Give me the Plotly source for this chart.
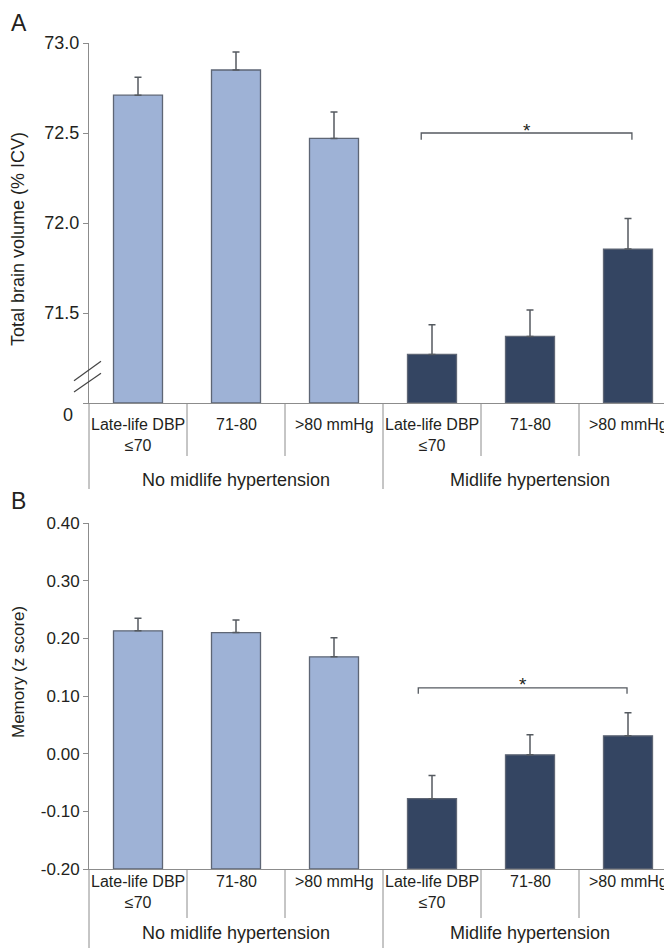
import plotly.graph_objects as go

# ---------------- data ----------------
subgroups = ["Late-life DBP<br>≤70", "71-80", ">80 mmHg"]
groups = ["No midlife hypertension", "Midlife hypertension"]

brain_no = [72.71, 72.85, 72.47]
brain_no_se = [0.10, 0.10, 0.147]
brain_mid = [71.27, 71.37, 71.855]
brain_mid_se = [0.165, 0.147, 0.17]

mem_no = [0.213, 0.210, 0.168]
mem_no_se = [0.022, 0.022, 0.033]
mem_mid = [-0.078, -0.002, 0.031]
mem_mid_se = [0.040, 0.035, 0.040]

brain_ticks = [71.0, 71.5, 72.0, 72.5, 73.0]
brain_ticktext = ["", "71.5", "72.0", "72.5", "73.0"]
mem_ticks = [-0.2, -0.1, 0.0, 0.1, 0.2, 0.3, 0.4]
mem_ticktext = ["-0.20", "-0.10", "0.00", "0.10", "0.20", "0.30", "0.40"]

brain_range = [71.0, 73.0]
mem_range = [-0.2, 0.4]

# significance brackets (x in category units, y in data units)
brain_bracket = dict(x0=2.89, x1=5.04, y=72.5, drop=0.037)
mem_bracket = dict(x0=2.86, x1=4.99, y=0.114, drop=0.010)

# ---------------- layout helpers ----------------
W, H = 672, 948
ML, MR, MT, MB = 81, 3, 35, 87
PW = W - ML - MR
PH = H - MT - MB


def py(p):
    return (H - MB - p) / PH


def pxf(p):
    return (p - ML) / PW


FONT = "Liberation Sans, Arial, Helvetica, sans-serif"
TXT = "#231f20"
GRID = "#8c8c8c"
LIGHT = "#9eb2d6"
DARK = "#344562"
OUTLINE = "#5e6675"
ERR = "#555a60"

n_cat = len(subgroups) * len(groups)
x_no = list(range(len(subgroups)))
x_mid = [len(subgroups) + i for i in range(len(subgroups))]

fig = go.Figure()


def add_bars(xs, vals, ses, color, base, xa, ya):
    fig.add_trace(go.Bar(
        x=xs, y=[v - base for v in vals], base=base, width=0.5,
        marker=dict(color=color, line=dict(color=OUTLINE, width=1.3)),
        error_y=dict(type="data", array=ses, arrayminus=[0] * len(ses),
                     symmetric=False, color=ERR, thickness=1.5, width=3.5),
        xaxis=xa, yaxis=ya, showlegend=False, hoverinfo="skip"))


add_bars(x_no, brain_no, brain_no_se, LIGHT, brain_range[0], "x", "y")
add_bars(x_mid, brain_mid, brain_mid_se, DARK, brain_range[0], "x", "y")
add_bars(x_no, mem_no, mem_no_se, LIGHT, mem_range[0], "x2", "y2")
add_bars(x_mid, mem_mid, mem_mid_se, DARK, mem_range[0], "x2", "y2")

# brackets
for b, xa, ya in [(brain_bracket, "x", "y"), (mem_bracket, "x2", "y2")]:
    fig.add_trace(go.Scatter(
        x=[b["x0"], b["x0"], b["x1"], b["x1"]],
        y=[b["y"] - b["drop"], b["y"], b["y"], b["y"] - b["drop"]],
        mode="lines", line=dict(color=ERR, width=1.3),
        xaxis=xa, yaxis=ya, showlegend=False, hoverinfo="skip"))

axis_common = dict(showgrid=False, zeroline=False, showline=True,
                   linecolor=GRID, linewidth=1)

fig.update_layout(
    width=W, height=H,
    margin=dict(l=ML, r=MR, t=MT, b=MB),
    paper_bgcolor="white", plot_bgcolor="white",
    font=dict(family=FONT, color=TXT),
    bargap=0.5,
    xaxis=dict(domain=[0, 1], range=[-0.5, n_cat - 0.5], anchor="y",
               showticklabels=False, ticks="", fixedrange=True, **axis_common),
    xaxis2=dict(domain=[0, 1], range=[-0.5, n_cat - 0.5], anchor="y2",
                showticklabels=False, ticks="", fixedrange=True, **axis_common),
    yaxis=dict(domain=[py(395), 1], range=brain_range, anchor="x",
               tickvals=brain_ticks, ticktext=brain_ticktext,
               ticks="outside", ticklen=5, tickcolor=GRID,
               tickfont=dict(size=18, color=TXT), **axis_common),
    yaxis2=dict(domain=[0, py(515)], range=mem_range, anchor="x2",
                tickvals=mem_ticks, ticktext=mem_ticktext,
                ticks="outside", ticklen=5, tickcolor=GRID,
                tickfont=dict(size=17, color=TXT), **axis_common),
)

shapes = []
annotations = []


def vline(k, p0, p1):
    shapes.append(dict(type="line", xref="paper", yref="paper",
                       x0=k / n_cat, x1=k / n_cat, y0=py(p0), y1=py(p1),
                       line=dict(color=GRID, width=1)))


# category table lines: (baseline px, short-line end, full-line end, label top, group centre)
table_rows = [(395, 448, 481, 406, 472), (861, 910, 952, 863, 925)]
for base_p, short_p, full_p, lab_p, grp_p in table_rows:
    for k in range(n_cat + 1):
        if k % len(subgroups) == 0:
            vline(k, base_p, full_p)
        else:
            vline(k, base_p, short_p)
    for i, lab in enumerate(subgroups * len(groups)):
        annotations.append(dict(
            text=lab, x=i, xref="x", y=py(lab_p), yref="paper",
            xanchor="center", yanchor="top", showarrow=False,
            font=dict(size=16, color=TXT)))
    for g, lab in enumerate(groups):
        annotations.append(dict(
            text=lab, x=g * len(subgroups) + (len(subgroups) - 1) / 2,
            xref="x", y=py(grp_p), yref="paper",
            xanchor="center", yanchor="middle", showarrow=False,
            font=dict(size=18, color=TXT)))

# axis-break marks on the top panel
for ya, yb in [(71.124, 71.232), (71.061, 71.165)]:
    shapes.append(dict(type="line", xref="paper", yref="y",
                       x0=pxf(66), x1=pxf(93), y0=ya, y1=yb,
                       line=dict(color="#444", width=1.2)))

# "0" label below the break
annotations.append(dict(text="0", x=pxf(67), xref="paper", y=py(407),
                        yref="paper", xanchor="right", yanchor="middle",
                        showarrow=False, font=dict(size=18, color=TXT)))

# significance stars
for b, xa, ya in [(brain_bracket, "x", "y"), (mem_bracket, "x2", "y2")]:
    annotations.append(dict(text="*", x=(b["x0"] + b["x1"]) / 2,
                            xref=xa, y=b["y"], yref=ya,
                            xanchor="center", yanchor="middle", yshift=3,
                            showarrow=False, font=dict(size=19, color=TXT)))

# y-axis titles
annotations.append(dict(text="Total brain volume (% ICV)", x=pxf(10), xref="paper",
                        y=py(231), yref="paper", textangle=-90,
                        xanchor="center", yanchor="middle", showarrow=False,
                        font=dict(size=18, color=TXT)))
annotations.append(dict(text="Memory (z score)", x=pxf(10), xref="paper",
                        y=py(664), yref="paper", textangle=-90,
                        xanchor="center", yanchor="middle", showarrow=False,
                        font=dict(size=17, color=TXT)))

# panel letters
annotations.append(dict(text="A", x=pxf(1), xref="paper", y=py(15), yref="paper",
                        xanchor="left", yanchor="middle", showarrow=False,
                        font=dict(size=23, color=TXT)))
annotations.append(dict(text="B", x=pxf(1), xref="paper", y=py(493), yref="paper",
                        xanchor="left", yanchor="middle", showarrow=False,
                        font=dict(size=23, color=TXT)))

fig.update_layout(shapes=shapes, annotations=annotations)

fig.write_html("out.html")
